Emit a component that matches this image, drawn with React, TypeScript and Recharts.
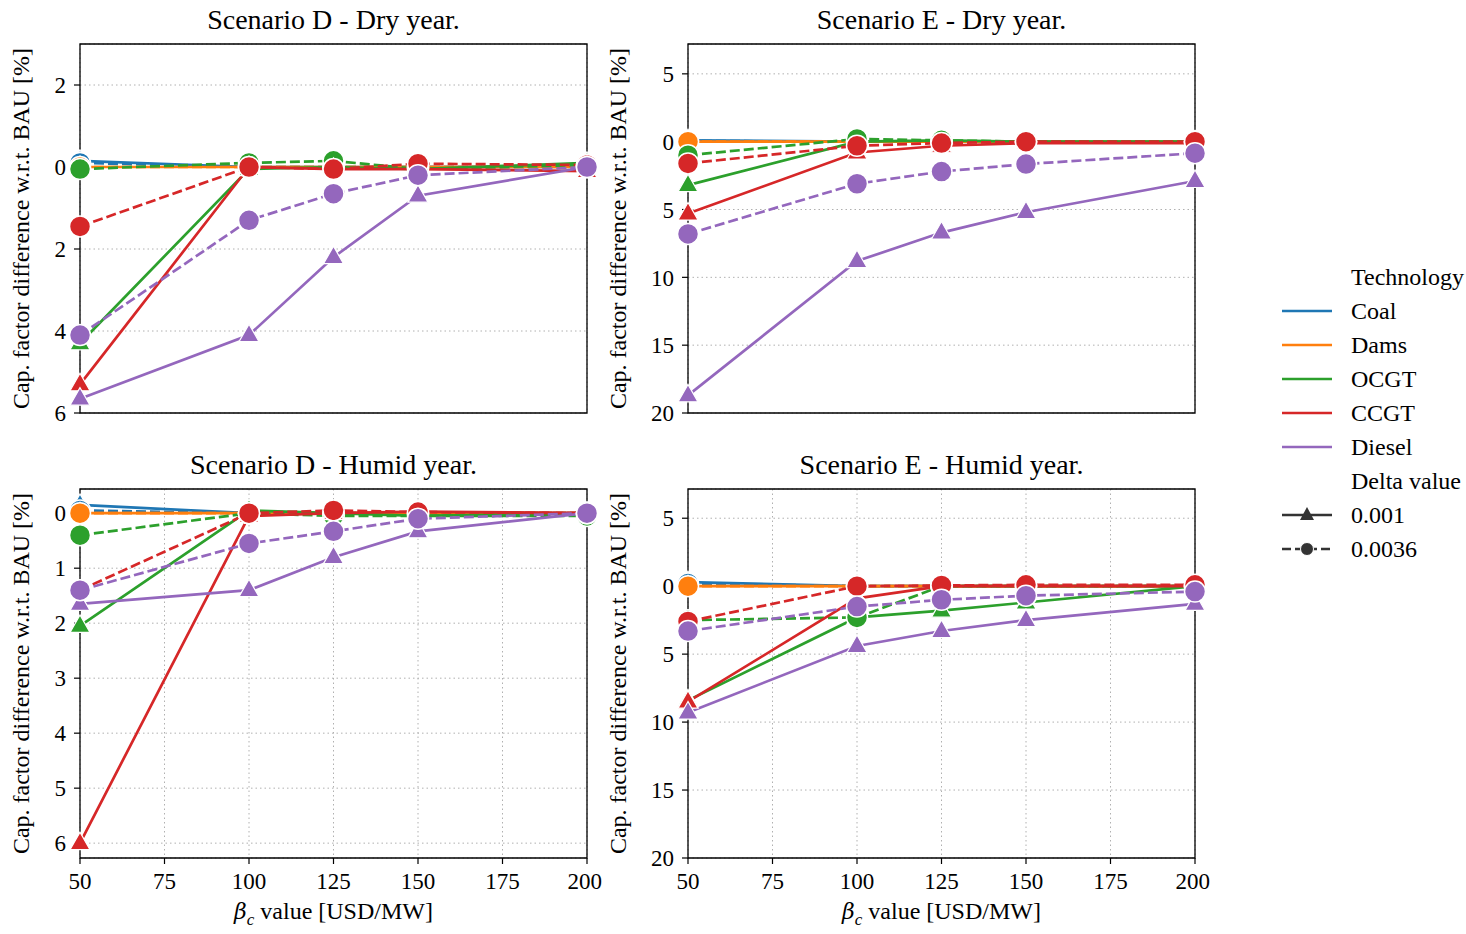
import React from "react";
import {
  LineChart,
  Line,
  XAxis,
  YAxis,
  CartesianGrid,
  ReferenceArea,
} from "recharts";

const BETA = [50, 100, 125, 150, 200];
const TECHS = ["Coal", "Dams", "OCGT", "CCGT", "Diesel"];
const COLORS: Record<string, string> = {
  Coal: "#1f77b4",
  Dams: "#ff7f0e",
  OCGT: "#2ca02c",
  CCGT: "#d62728",
  Diesel: "#9467bd",
};
const X_TICKS = [50, 75, 100, 125, 150, 175, 200];

// positive = drop (axis is inverted)
const D_DRY_001 = {
  Coal: [-0.15, 0, 0, 0, 0],
  Dams: [0, 0, 0, 0, 0],
  OCGT: [4.3, 0.05, 0, 0.05, -0.1],
  CCGT: [5.3, 0, 0.05, 0.05, 0.1],
  Diesel: [5.65, 4.1, 2.2, 0.7, 0],
};
const D_DRY_0036 = {
  Coal: [-0.1, 0, 0, 0, 0],
  Dams: [0, 0, 0, 0, 0],
  OCGT: [0.05, -0.1, -0.15, 0.05, -0.05],
  CCGT: [1.45, 0, 0.05, -0.08, -0.05],
  Diesel: [4.1, 1.3, 0.65, 0.2, 0],
};
const E_DRY_001 = {
  Coal: [-0.1, 0, 0, 0, 0],
  Dams: [0, 0, 0, 0, 0],
  OCGT: [3.2, 0, -0.1, 0, 0],
  CCGT: [5.3, 0.8, 0.3, 0.1, 0.1],
  Diesel: [18.7, 8.8, 6.7, 5.2, 2.9],
};
const E_DRY_0036 = {
  Coal: [-0.05, 0, 0, 0, 0],
  Dams: [0, 0, 0, 0, 0],
  OCGT: [1.0, -0.2, -0.1, 0, 0],
  CCGT: [1.6, 0.3, 0.1, 0, 0],
  Diesel: [6.8, 3.1, 2.2, 1.65, 0.85],
};
const D_HUM_001 = {
  Coal: [-0.15, 0, 0, 0, 0],
  Dams: [0, 0, 0, 0, 0],
  OCGT: [2.05, -0.05, 0, 0.05, 0],
  CCGT: [6.0, 0.05, 0, -0.03, 0],
  Diesel: [1.65, 1.4, 0.8, 0.33, 0],
};
const D_HUM_0036 = {
  Coal: [-0.05, 0, 0, 0, 0],
  Dams: [0, 0, 0, 0, 0],
  OCGT: [0.4, 0, 0.05, 0.05, 0.05],
  CCGT: [1.4, 0, -0.05, -0.02, 0],
  Diesel: [1.4, 0.55, 0.33, 0.1, 0],
};
const E_HUM_001 = {
  Coal: [-0.3, 0, 0, 0, 0],
  Dams: [0, 0, 0, 0, 0],
  OCGT: [8.4, 2.3, 1.8, 1.2, 0],
  CCGT: [8.5, 0.9, 0, 0, 0],
  Diesel: [9.3, 4.4, 3.3, 2.5, 1.3],
};
const E_HUM_0036 = {
  Coal: [-0.2, 0, 0, 0, 0],
  Dams: [0, 0, 0, 0, 0],
  OCGT: [2.5, 2.3, 0, 0, 0],
  CCGT: [2.6, 0, -0.05, -0.1, -0.1],
  Diesel: [3.3, 1.5, 1.0, 0.7, 0.4],
};

const FONT = "'Liberation Serif', 'Times New Roman', serif";
const PLOT_W = 507;
const PLOT_H = 369;
const Y_AX_W = 60;
const M_TOP = 15;
const M_RIGHT = 15;
const X_AX_H = 40;

type Series = Record<string, number[]>;

function buildRows(solid: Series, dashed: Series) {
  return BETA.map((b, i) => {
    const row: Record<string, number> = { beta: b };
    TECHS.forEach((t) => {
      row[t + "_a"] = solid[t][i];
      row[t + "_b"] = dashed[t][i];
    });
    return row;
  });
}

const triangleDot = (color: string) => (p: any) => {
  const { cx, cy, index } = p;
  if (cx == null || cy == null) return <g key={index} />;
  return (
    <polygon
      key={index}
      points={`${cx},${cy - 11} ${cx - 10},${cy + 6.5} ${cx + 10},${cy + 6.5}`}
      fill={color}
      stroke="#fff"
      strokeWidth={1.2}
    />
  );
};

const circleDot = (color: string) => (p: any) => {
  const { cx, cy, index } = p;
  if (cx == null || cy == null) return <g key={index} />;
  return <circle key={index} cx={cx} cy={cy} r={10.5} fill={color} stroke="#fff" strokeWidth={1.5} />;
};

type PanelProps = {
  title: string;
  left: number;
  top: number;
  solid: Series;
  dashed: Series;
  domain: [number, number];
  yTicks: number[];
  showX: boolean;
  labelOffset: number;
};

function Panel({ title, left, top, solid, dashed, domain, yTicks, showX, labelOffset }: PanelProps) {
  const rows = buildRows(solid, dashed);
  const tickStyle = { fill: "#000", fontSize: 23, fontFamily: FONT };
  return (
    <>
      <div
        style={{
          position: "absolute",
          left,
          top: top - 40,
          width: PLOT_W,
          textAlign: "center",
          fontFamily: FONT,
          fontSize: 28,
          lineHeight: "32px",
        }}
      >
        {title}
      </div>
      <div
        style={{
          position: "absolute",
          left: left - labelOffset - 15,
          top,
          width: 30,
          height: PLOT_H,
          display: "flex",
          alignItems: "center",
          justifyContent: "center",
        }}
      >
        <div
          style={{
            transform: "rotate(-90deg)",
            whiteSpace: "nowrap",
            fontFamily: FONT,
            fontSize: 24,
          }}
        >
          Cap. factor difference w.r.t. BAU [%]
        </div>
      </div>
      <div style={{ position: "absolute", left: left - Y_AX_W, top: top - M_TOP }}>
        <LineChart
          width={PLOT_W + Y_AX_W + M_RIGHT}
          height={PLOT_H + M_TOP + X_AX_H}
          data={rows}
          margin={{ top: M_TOP, right: M_RIGHT, left: 0, bottom: 0 }}
        >
          <CartesianGrid stroke="#b0b0b0" strokeDasharray="1.5 3" strokeWidth={1} />
          <XAxis
            dataKey="beta"
            type="number"
            domain={[50, 200]}
            ticks={X_TICKS}
            height={X_AX_H}
            axisLine={false}
            tickLine={{ stroke: "#000", strokeWidth: 1.2 }}
            tickSize={6}
            tickMargin={9}
            tick={showX ? tickStyle : false}
          />
          <YAxis
            type="number"
            reversed
            domain={domain}
            ticks={yTicks}
            width={Y_AX_W}
            axisLine={false}
            allowDataOverflow
            tickLine={{ stroke: "#000", strokeWidth: 1.2 }}
            tickSize={6}
            tickMargin={8}
            tick={tickStyle}
            tickFormatter={(v: number) => String(Math.abs(v))}
          />
          <ReferenceArea
            x1={50}
            x2={200}
            y1={domain[0]}
            y2={domain[1]}
            fill="none"
            fillOpacity={0}
            stroke="#000"
            strokeWidth={1.3}
          />
          {TECHS.flatMap((t) => [
            <Line
              key={t + "_a"}
              dataKey={t + "_a"}
              stroke={COLORS[t]}
              strokeWidth={2.7}
              dot={triangleDot(COLORS[t])}
              activeDot={false}
              isAnimationActive={false}
              legendType="none"
            />,
            <Line
              key={t + "_b"}
              dataKey={t + "_b"}
              stroke={COLORS[t]}
              strokeWidth={2.7}
              strokeDasharray="10 4"
              dot={circleDot(COLORS[t])}
              activeDot={false}
              isAnimationActive={false}
              legendType="none"
            />,
          ])}
        </LineChart>
      </div>
      {showX && (
        <div
          style={{
            position: "absolute",
            left,
            top: top + PLOT_H + 40,
            width: PLOT_W,
            textAlign: "center",
            fontFamily: FONT,
            fontSize: 24,
          }}
        >
          <span style={{ fontStyle: "italic", fontFamily: "'DejaVu Serif', serif", fontSize: 22 }}>β</span>
          <sub style={{ fontStyle: "italic", fontSize: 17 }}>c</sub> value [USD/MW]
        </div>
      )}
    </>
  );
}

function LegendBox() {
  const rowY = (i: number) => 17 + i * 34;
  const lx1 = 12;
  const lx2 = 62;
  const tx = 81;
  const txt = { fontFamily: FONT, fontSize: 24, fill: "#000" } as const;
  return (
    <svg
      width={196}
      height={310}
      style={{ position: "absolute", left: 1270, top: 260 }}
    >
      <text x={tx} y={rowY(0) + 8} {...txt}>Technology</text>
      {TECHS.map((t, i) => (
        <g key={t}>
          <line x1={lx1} x2={lx2} y1={rowY(i + 1)} y2={rowY(i + 1)} stroke={COLORS[t]} strokeWidth={2.5} />
          <text x={tx} y={rowY(i + 1) + 8} {...txt}>{t}</text>
        </g>
      ))}
      <text x={tx} y={rowY(6) + 8} {...txt}>Delta value</text>
      <line x1={lx1} x2={lx2} y1={rowY(7)} y2={rowY(7)} stroke="#333" strokeWidth={2.5} />
      <polygon
        points={`37,${rowY(7) - 8} 30,${rowY(7) + 5} 44,${rowY(7) + 5}`}
        fill="#333"
      />
      <text x={tx} y={rowY(7) + 8} {...txt}>0.001</text>
      <line x1={lx1} x2={lx2} y1={rowY(8)} y2={rowY(8)} stroke="#333" strokeWidth={2.5} strokeDasharray="9 4" />
      <circle cx={37} cy={rowY(8)} r={6.5} fill="#333" stroke="#fff" strokeWidth={1} />
      <text x={tx} y={rowY(8) + 8} {...txt}>0.0036</text>
    </svg>
  );
}

export default function App() {
  return (
    <div
      style={{
        position: "absolute",
        left: 0,
        top: 0,
        width: 1466,
        height: 934,
        background: "#fff",
        overflow: "hidden",
      }}
    >
      <Panel
        title="Scenario D - Dry year."
        left={80}
        top={44}
        solid={D_DRY_001}
        dashed={D_DRY_0036}
        domain={[-3, 6]}
        yTicks={[-2, 0, 2, 4, 6]}
        showX={false}
        labelOffset={58}
      />
      <Panel
        title="Scenario E - Dry year."
        left={688}
        top={44}
        solid={E_DRY_001}
        dashed={E_DRY_0036}
        domain={[-7.2, 20]}
        yTicks={[-5, 0, 5, 10, 15, 20]}
        showX={false}
        labelOffset={69}
      />
      <Panel
        title="Scenario D - Humid year."
        left={80}
        top={489}
        solid={D_HUM_001}
        dashed={D_HUM_0036}
        domain={[-0.44, 6.27]}
        yTicks={[0, 1, 2, 3, 4, 5, 6]}
        showX
        labelOffset={58}
      />
      <Panel
        title="Scenario E - Humid year."
        left={688}
        top={489}
        solid={E_HUM_001}
        dashed={E_HUM_0036}
        domain={[-7.15, 20]}
        yTicks={[-5, 0, 5, 10, 15, 20]}
        showX
        labelOffset={69}
      />
      <LegendBox />
    </div>
  );
}
